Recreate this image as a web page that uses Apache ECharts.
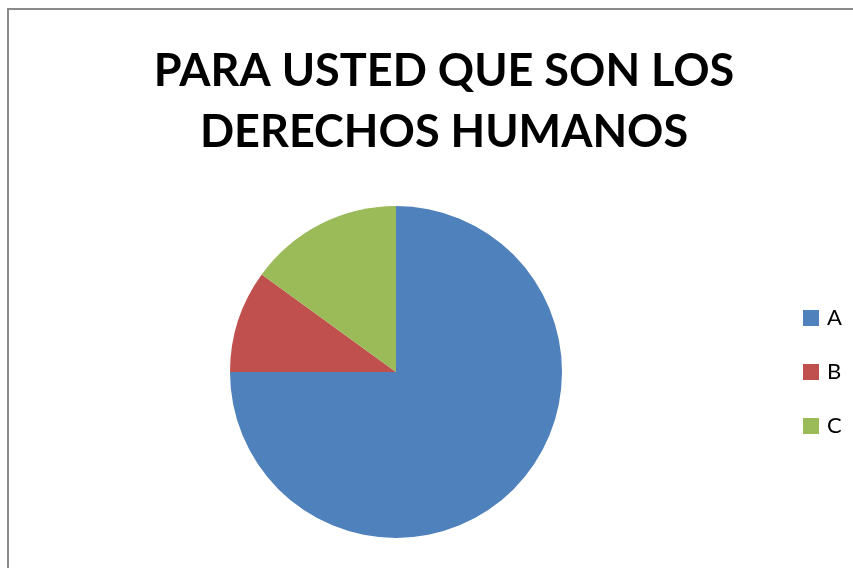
<!DOCTYPE html>
<html>
<head>
<meta charset="utf-8">
<script src="https://cdn.jsdelivr.net/npm/echarts@6/dist/echarts.min.js"></script>
<style>
html,body{margin:0;padding:0;background:#fff;}
#c{width:853px;height:568px;}
</style>
</head>
<body>
<div id="c"></div>
<script>
const titleText = "PARA USTED QUE SON LOS\nDERECHOS HUMANOS";
const categories = ["A", "B", "C"];
const values = [75, 10, 15];
const colors = ["#4F81BD", "#C0504D", "#9BBB59"];

const chart = echarts.init(document.getElementById('c'));
chart.setOption({
  animation: false,
  backgroundColor: '#fff',
  title: {
    text: titleText,
    left: 439,
    top: 36,
    textAlign: 'center',
    textStyle: {
      fontFamily: 'Lato',
      fontWeight: 'bold',
      fontSize: 45,
      lineHeight: 61,
      color: '#000'
    }
  },
  legend: {
    orient: 'vertical',
    left: 798,
    top: 302,
    itemWidth: 16,
    itemHeight: 16,
    itemGap: 32,
    icon: 'rect',
    textStyle: { fontFamily: 'Lato', fontSize: 22, lineHeight: 22, color: '#000', padding: [0,0,0,3] },
    data: categories
  },
  graphic: [
    { type: 'line', shape: { x1: 7, y1: 9, x2: 853, y2: 9 }, style: { stroke: '#8a8a8a', lineWidth: 2 } },
    { type: 'line', shape: { x1: 8, y1: 9, x2: 8, y2: 568 }, style: { stroke: '#8a8a8a', lineWidth: 2 } }
  ],
  series: [{
    type: 'pie',
    center: [396, 372],
    radius: 166,
    startAngle: 90,
    clockwise: true,
    label: { show: false },
    labelLine: { show: false },
    emphasis: { disabled: true },
    data: categories.map((c, i) => ({ name: c, value: values[i], itemStyle: { color: colors[i] } }))
  }]
});
</script>
</body>
</html>
